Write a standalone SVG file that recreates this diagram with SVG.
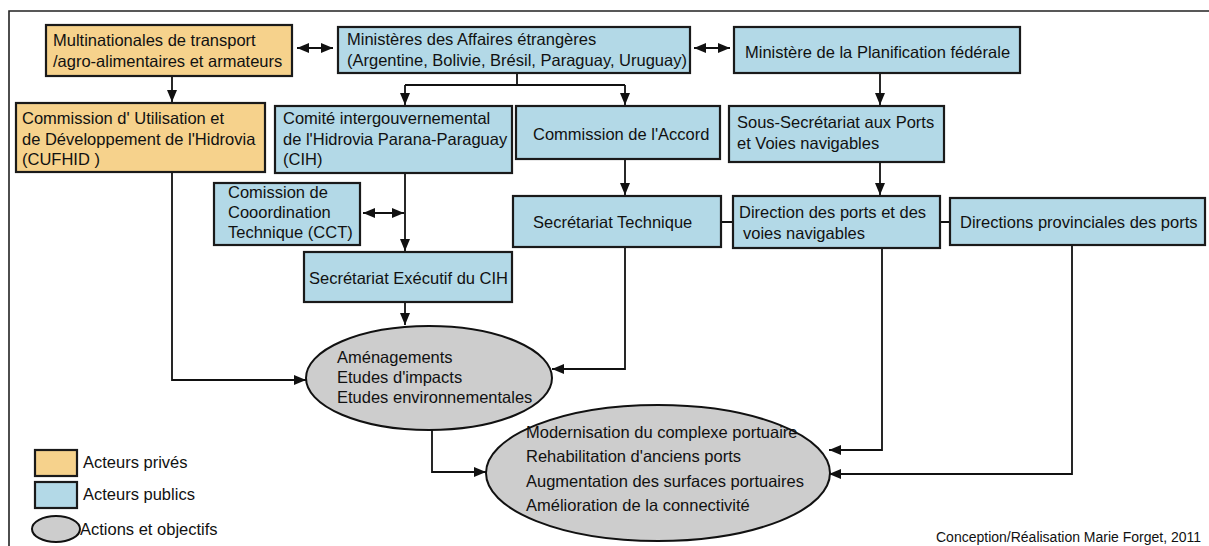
<svg xmlns="http://www.w3.org/2000/svg" width="1209" height="546" viewBox="0 0 1209 546">
<style>
text{font-family:"Liberation Sans",Arial,sans-serif;font-size:16.5px;fill:#111}
.priv{fill:#F6D28C;stroke:#1a1a1a;stroke-width:2.2}
.pub{fill:#B3D9E7;stroke:#1a1a1a;stroke-width:2.2}
.act{fill:#CDCDCD;stroke:#111;stroke-width:2}
.c{fill:none;stroke:#111;stroke-width:1.8}
.frame{fill:none;stroke:#222;stroke-width:1.6}
.credit{font-size:14px}
</style>
<defs>
<marker id="a" viewBox="0 0 12 10" refX="12" refY="5" markerWidth="12" markerHeight="10" markerUnits="userSpaceOnUse" orient="auto-start-reverse">
<path d="M0,0 L12,5 L0,10 z" fill="#111"/>
</marker>
</defs>
<rect width="1209" height="546" fill="#fff"/>
<path class="frame" d="M9,546 V11 H1209"/>

<g id="connectors">
<path class="c" d="M297,48 H333" marker-start="url(#a)" marker-end="url(#a)"/>
<path class="c" d="M694,48 H730" marker-start="url(#a)" marker-end="url(#a)"/>
<path class="c" d="M172,76 V102" marker-end="url(#a)"/>
<path class="c" d="M517,73 V85 M405,85 H625"/>
<path class="c" d="M405,85 V105" marker-end="url(#a)"/>
<path class="c" d="M625,85 V105" marker-end="url(#a)"/>
<path class="c" d="M880,73 V105" marker-end="url(#a)"/>
<path class="c" d="M625,159 V195" marker-end="url(#a)"/>
<path class="c" d="M880,162 V195" marker-end="url(#a)"/>
<path class="c" d="M721,222 H733 M940,222 H950"/>
<path class="c" d="M405,173 V251" marker-end="url(#a)"/>
<path class="c" d="M363,213 H404" marker-start="url(#a)" marker-end="url(#a)"/>
<path class="c" d="M405,302 V325" marker-end="url(#a)"/>
<path class="c" d="M172,172 V380 H306" marker-end="url(#a)"/>
<path class="c" d="M625,247 V369 H552" marker-end="url(#a)"/>
<path class="c" d="M432,430 V472 H486" marker-end="url(#a)"/>
<path class="c" d="M882,248 V450 H829" marker-end="url(#a)"/>
<path class="c" d="M1072,245 V474 H829" marker-end="url(#a)"/>
</g>

<g id="multinationales">
<rect class="priv" x="46" y="25" width="246" height="51"/>
<text x="53" y="46">Multinationales de transport</text>
<text x="53" y="67">/agro-alimentaires et armateurs</text>
</g>
<g id="mae">
<rect class="pub" x="338" y="27" width="352" height="46"/>
<text x="347" y="45">Ministères des Affaires étrangères</text>
<text x="347" y="66">(Argentine, Bolivie, Brésil, Paraguay, Uruguay)</text>
</g>
<g id="mpf">
<rect class="pub" x="734" y="27" width="286" height="46"/>
<text x="745" y="58">Ministère de la Planification fédérale</text>
</g>
<g id="cufhid">
<rect class="priv" x="16" y="103" width="249" height="69"/>
<text x="22" y="124">Commission d' Utilisation et</text>
<text x="22" y="145">de Développement de l'Hidrovia</text>
<text x="22" y="165">(CUFHID )</text>
</g>
<g id="cih">
<rect class="pub" x="275" y="106" width="237" height="67"/>
<text x="283" y="124">Comité intergouvernemental</text>
<text x="283" y="145">de l'Hidrovia Parana-Paraguay</text>
<text x="283" y="165">(CIH)</text>
</g>
<g id="accord">
<rect class="pub" x="516" y="106" width="204" height="53"/>
<text x="533" y="140">Commission de l'Accord</text>
</g>
<g id="ssp">
<rect class="pub" x="729" y="106" width="215" height="56"/>
<text x="737" y="128">Sous-Secrétariat aux Ports</text>
<text x="737" y="149">et Voies navigables</text>
</g>
<g id="cct">
<rect class="pub" x="214" y="183" width="146" height="62"/>
<text x="228" y="198">Comission de</text>
<text x="228" y="218">Cooordination</text>
<text x="228" y="238">Technique (CCT)</text>
</g>
<g id="sectech">
<rect class="pub" x="513" y="196" width="208" height="51"/>
<text x="533" y="228">Secrétariat Technique</text>
</g>
<g id="dpvn">
<rect class="pub" x="733" y="196" width="207" height="52"/>
<text x="739" y="218">Direction des ports et des</text>
<text x="743" y="239">voies navigables</text>
</g>
<g id="dpp">
<rect class="pub" x="950" y="198" width="255" height="47"/>
<text x="960" y="228">Directions provinciales des ports</text>
</g>
<g id="secexec">
<rect class="pub" x="304" y="252" width="208" height="50"/>
<text x="309" y="284">Secrétariat Exécutif du CIH</text>
</g>
<g id="actions1">
<ellipse class="act" cx="429" cy="378" rx="123" ry="52"/>
<text x="337" y="363">Aménagements</text>
<text x="337" y="383">Etudes d'impacts</text>
<text x="337" y="403">Etudes environnementales</text>
</g>
<g id="actions2">
<ellipse class="act" cx="658" cy="473" rx="172" ry="68"/>
<text x="526" y="438">Modernisation du complexe portuaire</text>
<text x="526" y="462">Rehabilitation d'anciens ports</text>
<text x="526" y="487">Augmentation des surfaces portuaires</text>
<text x="526" y="511">Amélioration de la connectivité</text>
</g>
<g id="legend">
<rect class="priv" x="35" y="450" width="42" height="26" stroke-width="1.2"/>
<text x="83" y="468">Acteurs privés</text>
<rect class="pub" x="35" y="482" width="42" height="26" stroke-width="1.2"/>
<text x="83" y="500">Acteurs publics</text>
<ellipse class="act" cx="56" cy="529" rx="24" ry="13" stroke-width="1.2"/>
<text x="80" y="535">Actions et objectifs</text>
</g>
<text class="credit" x="936" y="542">Conception/Réalisation Marie Forget, 2011</text>
</svg>
